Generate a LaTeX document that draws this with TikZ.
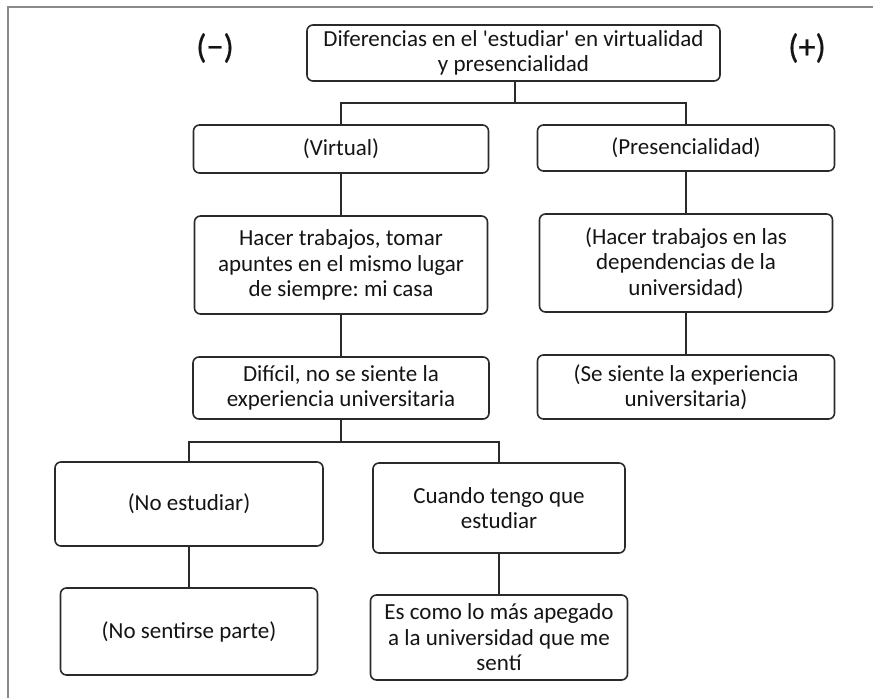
\documentclass[tikz,border=0pt]{standalone}
\usepackage{fontspec}
\newfontfamily\calfont{Carlito}
\newfontfamily\calbold{Carlito}[FakeBold=0.6]
\definecolor{txt}{HTML}{141414}
\definecolor{edge}{HTML}{2A2A2A}
\definecolor{frame}{HTML}{8A8A8A}
\begin{document}
\begin{tikzpicture}[x=1pt,y=-1pt,
  box/.style={draw=edge, line width=1.6pt, rounded corners=6pt, align=center,
    inner sep=0pt, text=txt, font=\calfont\fontsize{23}{25.5}\selectfont\frenchspacing},
  conn/.style={draw=edge, line width=1.5pt},
  sign/.style={text=txt, font=\calbold\fontsize{34}{36}\selectfont, inner sep=0pt}]
\useasboundingbox (0,0) rectangle (873,698);
\draw[frame, line width=2pt] (8,698) -- (8,7) -- (873,7);

\node[box, minimum width=413pt, minimum height=56pt] (top) at (513.5,53)
  {Diferencias en el 'estudiar' en virtualidad\\y presencialidad};
\node[sign] (neg) at (215,48) {(−)};
\node[sign] (pos) at (807,48) {(+)};

\node[box, minimum width=295pt, minimum height=48pt] (virt) at (341,149) {(Virtual)};
\node[box, minimum width=293pt, minimum height=98pt] (hacer) at (341,265)
  {Hacer trabajos, tomar\\apuntes en el mismo lugar\\de siempre: mi casa};
\node[box, minimum width=296pt, minimum height=62pt] (dif) at (341,388)
  {Difícil, no se siente la\\experiencia universitaria};

\node[box, minimum width=297pt, minimum height=46pt] (pres) at (686,148) {(Presencialidad)};
\node[box, minimum width=293pt, minimum height=98pt] (hacerp) at (686,263)
  {(Hacer trabajos en las\\dependencias de la\\universidad)};
\node[box, minimum width=297pt, minimum height=64pt] (siente) at (686,387)
  {(Se siente la experiencia\\universitaria)};

\node[box, minimum width=268pt, minimum height=84pt] (noest) at (189,504) {(No estudiar)};
\node[box, minimum width=257pt, minimum height=87pt] (nosent) at (189,631.5) {(No sentirse parte)};
\node[box, minimum width=252pt, minimum height=90pt] (cuando) at (499,508)
  {Cuando tengo que\\estudiar};
\node[box, minimum width=257pt, minimum height=85pt] (escomo) at (499,637.5)
  {Es como lo más apegado\\a la universidad que me\\sentí};

\coordinate (b1) at (515,103);
\coordinate (b2) at (341,442);
\draw[conn] (top.south -| b1) -- (b1);
\draw[conn] (virt.north) |- (b1) -| (pres.north);
\draw[conn] (virt) -- (hacer);
\draw[conn] (hacer) -- (dif);
\draw[conn] (pres) -- (hacerp);
\draw[conn] (hacerp) -- (siente);
\draw[conn] (dif.south) -- (b2);
\draw[conn] (noest.north) |- (b2) -| (cuando.north);
\draw[conn] (noest) -- (nosent);
\draw[conn] (cuando) -- (escomo);
\end{tikzpicture}
\end{document}
